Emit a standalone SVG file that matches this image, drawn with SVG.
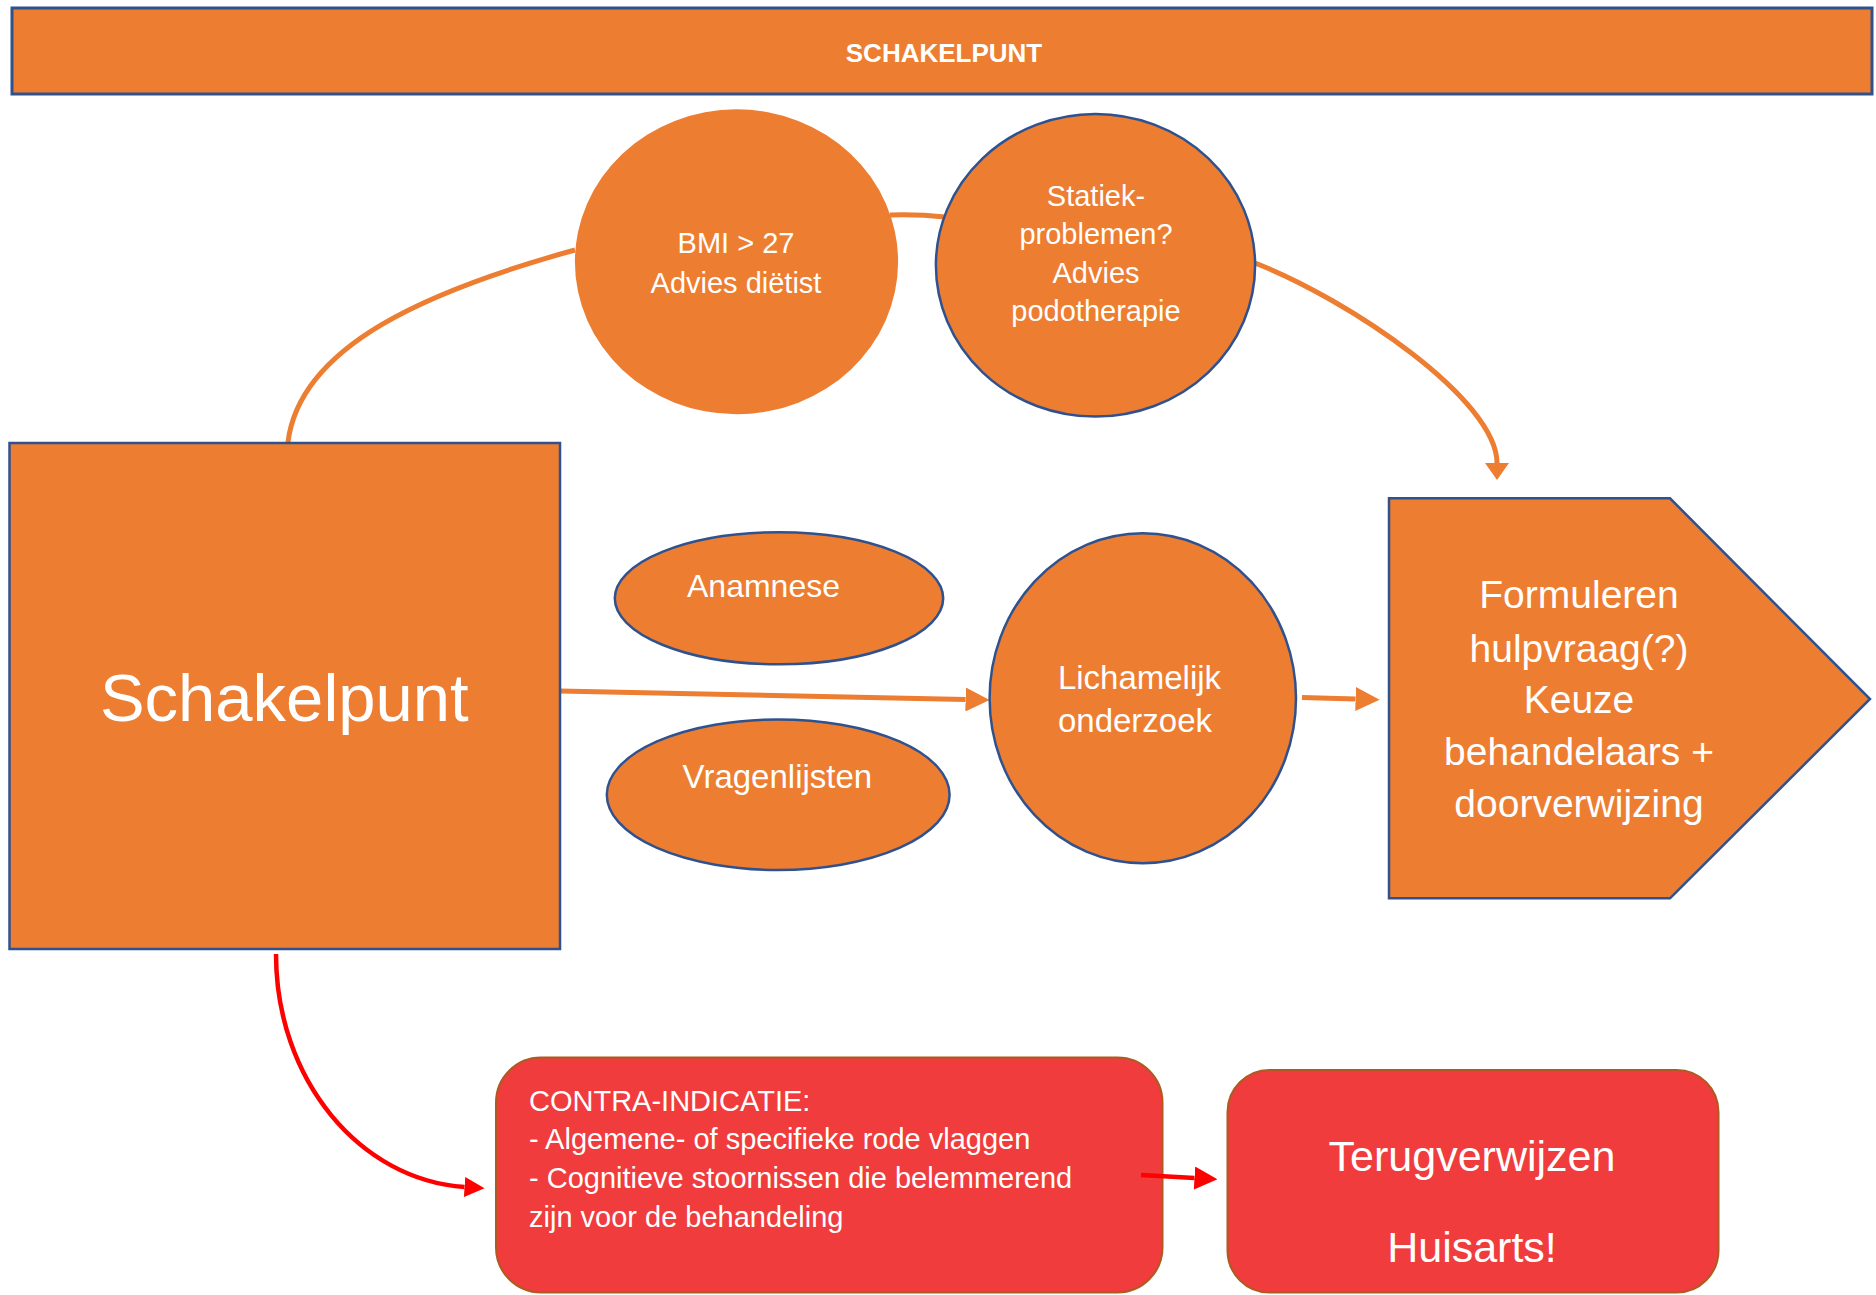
<svg xmlns="http://www.w3.org/2000/svg" width="1876" height="1295" viewBox="0 0 1876 1295">
<style>
.node{fill:#ED7D31;stroke:#2F528F;stroke-width:2.5}
.plain{fill:#ED7D31;stroke:none}
.red{fill:#F03C3C;stroke:#AE5A21;stroke-width:2}
.t{fill:#FFFFFF;font-family:"Liberation Sans",Arial,sans-serif;text-anchor:middle}
.tl{fill:#FFFFFF;font-family:"Liberation Sans",Arial,sans-serif;text-anchor:start}
.co{fill:none;stroke:#ED7D31;stroke-width:5}
.cr{fill:none;stroke:#FF0000;stroke-width:4.5}
</style>
<defs>
<marker id="ao" viewBox="0 0 24 24" refX="0" refY="12" markerWidth="24" markerHeight="24" markerUnits="userSpaceOnUse" orient="auto"><path d="M0,0 L24,12 L0,24 z" fill="#ED7D31"/></marker>
<marker id="ao2" viewBox="0 0 17 24" refX="0" refY="12" markerWidth="17" markerHeight="24" markerUnits="userSpaceOnUse" orient="auto"><path d="M0,0 L17,12 L0,24 z" fill="#ED7D31"/></marker>
<marker id="ar" viewBox="0 0 20 20" refX="0" refY="10" markerWidth="20" markerHeight="20" markerUnits="userSpaceOnUse" orient="auto"><path d="M0,0 L20,10 L0,20 z" fill="#FF0000"/></marker>
<marker id="ar2" viewBox="0 0 23 23" refX="0" refY="11.5" markerWidth="23" markerHeight="23" markerUnits="userSpaceOnUse" orient="auto"><path d="M0,0 L23,11.5 L0,23 z" fill="#FF0000"/></marker>
</defs>
<rect width="1876" height="1295" fill="#FFFFFF"/>

<g id="banner">
<rect x="12" y="8" width="1860" height="86" fill="#ED7D31" stroke="#2F528F" stroke-width="3"/>
<text class="t" x="944" y="62" font-size="26" font-weight="bold">SCHAKELPUNT</text>
</g>

<g id="connectors">
<path class="co" d="M288 442 C300 345,430 290,575 250"/>
<path class="co" d="M890 215 Q917 214 945 217"/>
<path class="co" d="M1255 263 C1350 300,1497 400,1497 463" marker-end="url(#ao2)"/>
<path class="co" d="M560 691 L965.6 699.5" stroke-width="6" marker-end="url(#ao)"/>
<path class="co" d="M1302 697.5 L1355.6 699" stroke-width="6" marker-end="url(#ao)"/>
<path class="cr" d="M276 954 C276 1080,360 1180,464.6 1187" marker-end="url(#ar)"/>
</g>

<g id="schakelpunt">
<rect class="node" x="9.5" y="443" width="550.5" height="506"/>
<text class="t" x="284.3" y="721" font-size="67">Schakelpunt</text>
</g>

<g id="bmi">
<ellipse class="plain" cx="736.5" cy="261.8" rx="161.6" ry="152.5"/>
<text class="t" x="736" y="253.3" font-size="29">BMI &gt; 27</text>
<text class="t" x="736" y="292.7" font-size="29">Advies diëtist</text>
</g>

<g id="statiek">
<ellipse class="node" cx="1095.5" cy="265.3" rx="159.6" ry="151.3"/>
<text class="t" x="1096" y="206" font-size="29">Statiek-</text>
<text class="t" x="1096" y="244" font-size="29">problemen?</text>
<text class="t" x="1096" y="282.7" font-size="29">Advies</text>
<text class="t" x="1096" y="320.7" font-size="29">podotherapie</text>
</g>

<g id="anamnese">
<ellipse class="node" cx="779" cy="598.3" rx="164.2" ry="66"/>
<text class="t" x="763.5" y="597" font-size="32">Anamnese</text>
</g>

<g id="vragenlijsten">
<ellipse class="node" cx="778.2" cy="794.7" rx="171.4" ry="75.3"/>
<text class="t" x="777.4" y="788" font-size="33">Vragenlijsten</text>
</g>

<g id="lichamelijk">
<ellipse class="node" cx="1142.8" cy="698.3" rx="153.2" ry="165"/>
<text class="t" x="1139.5" y="689" font-size="33">Lichamelijk</text>
<text class="t" x="1135" y="732" font-size="33">onderzoek</text>
</g>

<g id="formuleren">
<path class="node" d="M1389 498.3 L1670 498.3 L1870 699 L1670 898.3 L1389 898.3 Z"/>
<text class="t" x="1579" y="608" font-size="39">Formuleren</text>
<text class="t" x="1579" y="662" font-size="39">hulpvraag(?)</text>
<text class="t" x="1579" y="713" font-size="39">Keuze</text>
<text class="t" x="1579" y="765" font-size="39">behandelaars +</text>
<text class="t" x="1579" y="817" font-size="39">doorverwijzing</text>
</g>

<g id="contra">
<rect class="red" x="496" y="1057.5" width="666.5" height="235" rx="45" ry="45"/>
<text class="tl" x="529" y="1111" font-size="29">CONTRA-INDICATIE:</text>
<text class="tl" x="529" y="1149" font-size="29">- Algemene- of specifieke rode vlaggen</text>
<text class="tl" x="529" y="1188" font-size="29">- Cognitieve stoornissen die belemmerend</text>
<text class="tl" x="529" y="1227" font-size="29">zijn voor de behandeling</text>
</g>

<g id="terugverwijzen">
<rect class="red" x="1227.5" y="1070" width="491" height="222.5" rx="42" ry="42"/>
<text class="t" x="1472" y="1171" font-size="43">Terugverwijzen</text>
<text class="t" x="1472" y="1262" font-size="43">Huisarts!</text>
</g>

<g id="connectors-top">
<path class="cr" d="M1141 1175 L1194.5 1178" stroke-width="6" marker-end="url(#ar2)"/>
</g>
</svg>
